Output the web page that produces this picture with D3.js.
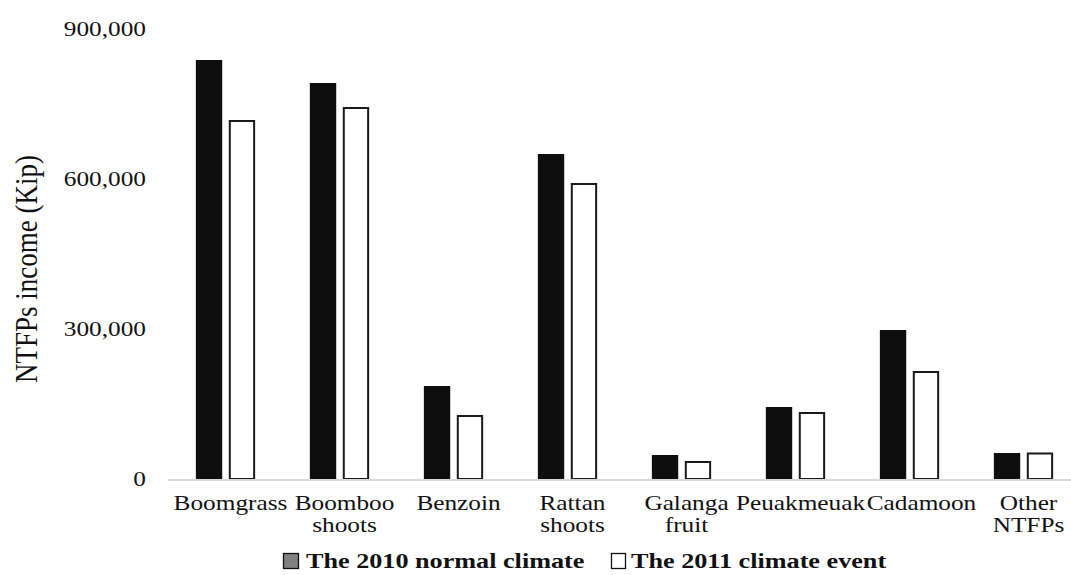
<!DOCTYPE html>
<html>
<head>
<meta charset="utf-8">
<script src="https://cdn.jsdelivr.net/npm/d3@7"></script>
<style>
  body { margin: 0; background: #fff; }
  svg { display: block; }
  text { font-family: "Liberation Serif", "Times New Roman", serif; fill: #111; }
</style>
</head>
<body>
<script>
var categories = ["Boomgrass", "Boomboo shoots", "Benzoin", "Rattan shoots",
                  "Galanga fruit", "Peuakmeuak", "Cadamoon", "Other NTFPs"];
var seriesNames = ["The 2010 normal climate", "The 2011 climate event"];
var values2010 = [838000, 792000, 186000, 650000, 48000, 144000, 298000, 52000];
var values2011 = [718000, 744000, 128000, 592000, 36000, 134000, 216000, 53000];
var yTicks = [0, 300000, 600000, 900000];

var width = 1071, height = 575;
var sx = 1.15; // text in the source is a little stretched sideways

var svg = d3.select("body").append("svg")
    .attr("width", width)
    .attr("height", height);

var rows = categories.map(function(c, i) {
  return {cat: c, vals: [values2010[i], values2011[i]]};
});

var y = d3.scaleLinear().domain([0, 900000]).range([479, 29]);
var x0 = d3.scaleBand().domain(categories)
    .range([168.5, 1080.5]).paddingInner(0.48).paddingOuter(0.24);
var x1 = d3.scaleBand().domain([0, 1])
    .range([0, x0.bandwidth()]).paddingInner(0.2);

// y tick labels (no axis line, no gridlines)
svg.append("g").selectAll("text")
  .data(yTicks)
  .join("text")
    .attr("transform", d => "translate(146," + (y(d) + 7) + ") scale(" + sx + ",1)")
    .attr("text-anchor", "end")
    .style("font-size", "22px")
    .text(d3.format(","));

// bars
var groups = svg.append("g").selectAll("g")
  .data(rows)
  .join("g")
    .attr("transform", d => "translate(" + x0(d.cat) + ",0)");

groups.selectAll("rect")
  .data(d => d.vals.map((v, i) => ({i: i, v: v})))
  .join("rect")
    .attr("x", d => x1(d.i) + (d.i ? 1 : 0))
    .attr("y", d => y(d.v) + (d.i ? 1 : 0))
    .attr("width", d => x1.bandwidth() - (d.i ? 2 : 0))
    .attr("height", d => y(0) - y(d.v) - (d.i ? 1 : 0))
    .attr("fill", d => d.i ? "#fff" : "#0e0e0e")
    .attr("stroke", d => d.i ? "#1a1a1a" : "none")
    .attr("stroke-width", 2);

// baseline
svg.append("line")
    .attr("x1", 168).attr("x2", width)
    .attr("y1", y(0) + 1).attr("y2", y(0) + 1)
    .attr("stroke", "#d9d9d9").attr("stroke-width", 2);

// category labels; Cadamoon is pushed a bit right so it clears Peuakmeuak
var nudge = {Cadamoon: 7};
var labels = svg.append("g").selectAll("text")
  .data(categories)
  .join("text")
    .attr("transform", d => "translate(" + (x0(d) + x0.bandwidth() / 2 + 5 + (nudge[d] || 0)) + ",510) scale(" + sx + ",1)")
    .attr("text-anchor", "middle")
    .style("font-size", "22px");

labels.selectAll("tspan")
  .data(d => d.split(" "))
  .join("tspan")
    .attr("x", 0)
    .attr("dy", (d, i) => i ? 22 : 0)
    .text(d => d);

// y axis title
svg.append("text")
    .attr("transform", "translate(37,269) rotate(-90) scale(1," + sx + ")")
    .attr("text-anchor", "middle")
    .style("font-size", "27px")
    .text("NTFPs income (Kip)");

// legend
var legendX = [283, 611];
var legend = svg.append("g").selectAll("g")
  .data(seriesNames)
  .join("g")
    .attr("transform", (d, i) => "translate(" + legendX[i] + ",553)");

legend.append("rect")
    .attr("x", 0.5).attr("y", 0.5)
    .attr("width", (d, i) => i ? 14 : 15)
    .attr("height", 15)
    .attr("fill", (d, i) => i ? "#fff" : "#808080")
    .attr("stroke", "#111").attr("stroke-width", 1.3);

legend.append("text")
    .attr("transform", (d, i) => "translate(" + (i ? 20 : 23) + ",15) scale(1.19,1)")
    .style("font-size", "22px")
    .style("font-weight", "bold")
    .text(d => d);
</script>
</body>
</html>
